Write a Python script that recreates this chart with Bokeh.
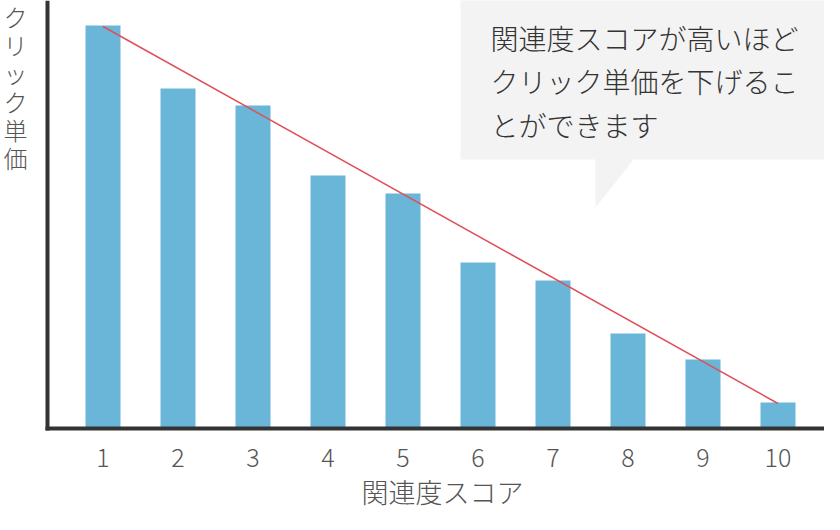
from bokeh.plotting import figure
from bokeh.models import Range1d, FixedTicker, Label
from bokeh.embed import file_html
from bokeh.resources import INLINE

# ---- data ----
scores = [1, 2, 3, 4, 5, 6, 7, 8, 9, 10]
cpc = [403, 340, 323, 253, 235, 166, 148, 95, 69, 26]
trend_x = [1, 10]
trend_y = [402, 25]
tick_labels = ["1", "2", "3", "4", "5", "6", "7", "8", "9", "10"]
x_title = "関連度スコア"
y_title = "クリック単価"
callout_lines = ["関連度スコアが高いほど", "クリック単価を下げるこ", "とができます"]

# ---- layout (pixels) ----
W, H = 824, 514
BASE = 428               # baseline position from top (px)
AXIS_X = 47              # left axis line position (px)
PX_PER_X = 75.0
X0 = 1 - 102.5 / PX_PER_X
X1 = X0 + W / PX_PER_X

def dx(px):  # figure px -> data x
    return X0 + px / PX_PER_X

def dy(py):  # figure px (from top) -> data y
    return BASE - py

FONT = "Noto Sans CJK JP Light"

p = figure(width=W, height=H, x_range=Range1d(X0, X1), y_range=Range1d(dy(H), dy(0)),
           output_backend="svg", toolbar_location=None,
           min_border_left=0, min_border_right=0, min_border_top=0, min_border_bottom=0)
p.outline_line_color = None
p.xgrid.visible = False
p.ygrid.visible = False
p.background_fill_color = "white"
p.border_fill_color = "white"

# callout box
p.quad(left=[dx(460)], right=[dx(830)], bottom=[dy(159)], top=[dy(-5)],
       fill_color="#f3f3f3", line_color=None)
p.patch(x=[dx(595), dx(634), dx(595)], y=[dy(158), dy(158), dy(207)],
        fill_color="#f3f3f3", line_color=None)

# bars
p.vbar(x=scores, top=cpc, width=35 / PX_PER_X, bottom=0,
       fill_color="#6ab6d8", line_color=None)

# trend line
p.line(x=trend_x, y=trend_y, line_color="#e0505a", line_width=1.6)

# left axis, fixed at its position, no ticks or labels
ya = p.yaxis[0]
ya.fixed_location = dx(AXIS_X)
ya.bounds = (dy(BASE + 2), dy(-5))
ya.ticker = FixedTicker(ticks=[])
ya.major_label_text_font_size = "0px"
ya.major_tick_line_color = None
ya.minor_tick_line_color = None
ya.major_tick_out = 0
ya.major_tick_in = 0
ya.axis_line_color = "#333333"
ya.axis_line_width = 4

# bottom axis, fixed at the baseline
xa = p.xaxis[0]
xa.fixed_location = 0
xa.bounds = (dx(AXIS_X - 2), X1)
xa.ticker = FixedTicker(ticks=scores)
xa.major_label_overrides = {s: t for s, t in zip(scores, tick_labels)}
xa.major_label_text_font = FONT
xa.major_label_text_font_size = "25px"
xa.major_label_text_color = "#555555"
xa.major_label_standoff = 20
xa.major_tick_line_color = None
xa.minor_tick_line_color = None
xa.major_tick_out = 0
xa.major_tick_in = 0
xa.axis_line_color = "#333333"
xa.axis_line_width = 4

# x title
p.add_layout(Label(x=dx(442), y=dy(491), text=x_title,
                   text_font=FONT, text_font_size="27px", text_color="#555555",
                   text_align="center", text_baseline="middle"))

# stacked vertical y title
for i, ch in enumerate(y_title):
    p.add_layout(Label(x=dx(15), y=dy(16 + 28.2 * i), text=ch,
                       text_font=FONT, text_font_size="24px", text_color="#555555",
                       text_align="center", text_baseline="middle"))

# callout text
for i, line in enumerate(callout_lines):
    p.add_layout(Label(x=dx(490), y=dy(37 + 43.5 * i), text=line,
                       text_font=FONT, text_font_size="28px", text_color="#333333",
                       text_align="left", text_baseline="middle"))

open("out.html", "w").write(file_html(p, INLINE))
